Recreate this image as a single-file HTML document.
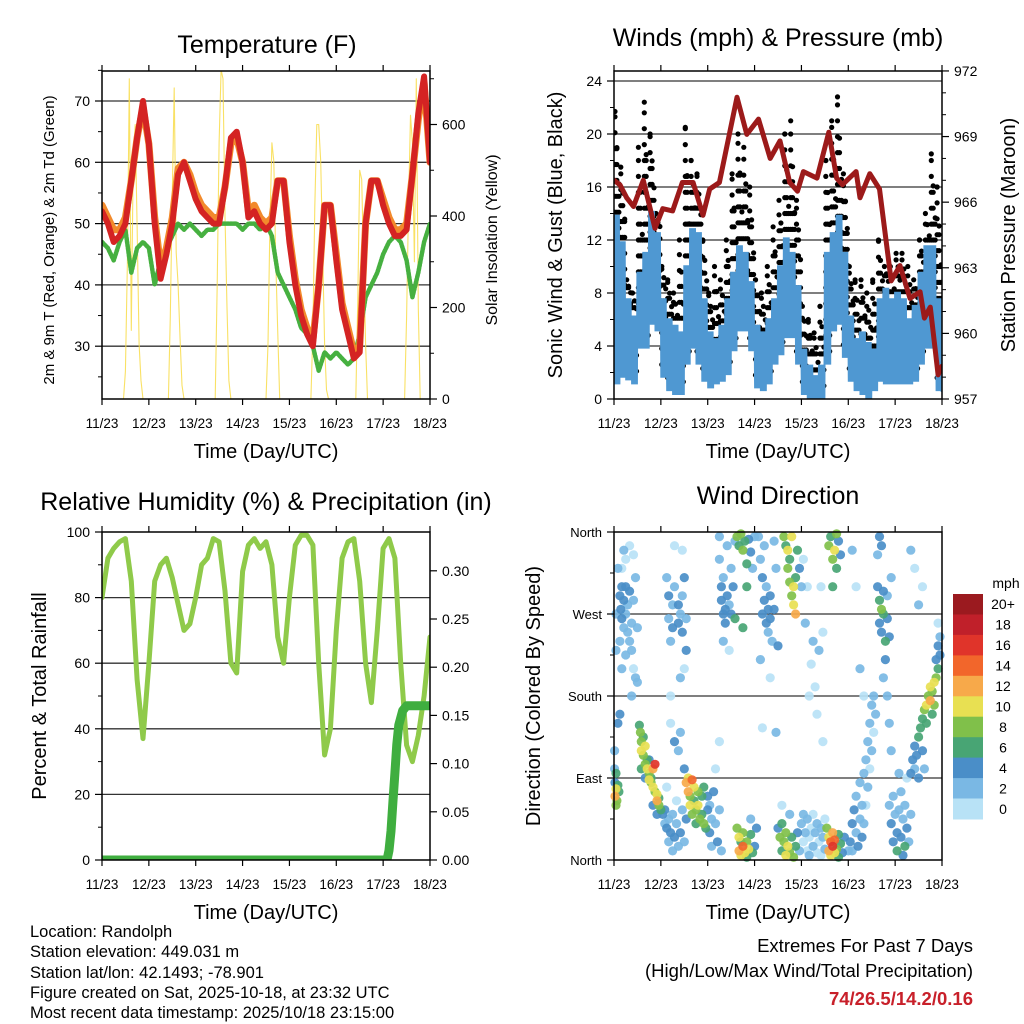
<!DOCTYPE html>
<html><head><meta charset="utf-8"><style>
html,body{margin:0;padding:0;background:#fff;}
svg{display:block;font-family:"Liberation Sans",Arial,sans-serif;}
</style></head><body>
<svg id="chart" width="1024" height="1024" viewBox="0 0 1024 1024" xmlns="http://www.w3.org/2000/svg">
<rect width="1024" height="1024" fill="#fff"/>
<g id="p1"></g>
<g id="p2"></g>
<g id="p3"></g>
<g id="p4"></g>
<g font-size="16.5" fill="#000">
<text x="30" y="937">Location: Randolph</text>
<text x="30" y="957">Station elevation: 449.031 m</text>
<text x="30" y="978">Station lat/lon: 42.1493; -78.901</text>
<text x="30" y="998">Figure created on Sat, 2025-10-18, at 23:32 UTC</text>
<text x="30" y="1018">Most recent data timestamp: 2025/10/18 23:15:00</text>
</g>
<g text-anchor="end">
<text x="973" y="952" font-size="18.5">Extremes For Past 7 Days</text>
<text x="973" y="977" font-size="18.5">(High/Low/Max Wind/Total Precipitation)</text>
<text x="973" y="1005" font-size="18.5" font-weight="bold" fill="#c8202a">74/26.5/14.2/0.16</text>
</g>
</svg>
<script>
// ---------- data ----------
const dayLabels = ["11/23","12/23","13/23","14/23","15/23","16/23","17/23","18/23"];
const tempRed = [52,50,47,48,50,57,64,70,63,50,41,45,50,58,60,57,54,52,51,50,50,56,64,65,60,51,52,50,49,50,57,57,47,40,35,32,30,40,53,53,44,36,32,28,29,50,57,57,53,50,48,48,49,58,68,74,60];
const tempOrange = [53,51,49,49,51,57,64,69,63,51,43,46,51,59,60,58,55,53,52,51,51,56,63,64,60,52,53,51,50,51,57,57,48,41,36,33,31,40,53,53,45,37,33,29,30,50,57,57,54,51,49,49,50,58,67,73,60];
const dewGreen = [47,46,44,47,49,42,46,47,46,40,44,46,48,50,49,50,49,48,49,49,50,50,50,50,49,50,50,49,50,48,42,40,38,36,33,32,30,26,29,28,29,28,27,28,32,38,40,42,45,47,48,47,44,38,42,47,50];
const solarStart = [11,34,58,84,107,130,155];
const solarVals = [
 [0,60,300,700,150,520,600,380,120,40,0],
 [0,180,450,680,320,250,130,30,0],
 [0,250,560,720,700,400,200,40,0],
 [0,120,380,560,520,300,150,0],
 [0,150,420,600,600,520,330,120,20,0],
 [0,220,500,480,300,120,0],
 [0,180,420,620,560,300,700,200,0]
];
const windHi = [13.9,11.9,7.6,6.3,9.6,11.1,14.2,12.6,7.6,6.1,5.6,5.1,10.1,12.9,12.6,7.6,5.1,4.6,5.6,7.6,9.6,11.6,11.1,8.9,5.6,5.1,6.1,7.6,10.1,12.2,11.1,8.6,3.8,2.6,1.8,2.6,11.1,12.6,13.9,11.1,6.3,4.6,5.1,4.3,3.8,7.6,8.4,7.6,8.1,7.6,6.1,7.1,9.6,11.6,11.6,7.6];
const windLo = [1.1,1.6,1.4,1.1,3.8,3.8,5.6,5.1,1.6,0.6,0.3,0.3,2.6,3.8,2.6,1.3,0.8,1.1,1.3,1.8,3.6,5.1,5.1,3.6,0.8,0.6,1.1,2.6,3.3,4.6,4.6,2.6,0.3,0,0,0,2.6,5.1,5.6,3.1,1.3,0.6,0.3,0,0.6,1.3,1.1,1.1,1.1,1.1,1.1,1.3,2.6,3.8,3.8,0.6];
const gustHi = [21.7,17.5,9,8,19,22.4,20,14,10,9,8,12,20.5,18,17,12,8,10,9,12,17,20,19,16,9,8,10,13,15,20,21,15,7,6,5,7,18,21,22.8,17,10,9,9,8,9,12,10,10,11,11,10,9,12,14,18.5,16];
const pressHour = [0,3,6.5,10,15,21,25,30,35,40.5,45.6,49,54,63,68,74,80,85,90,94,97,104,110,114,117,124,126,131,136,142,146.5,151.6,156.8,159,162,166,168];
const pressVal = [967.0,966.8,966.2,965.8,967.0,964.8,965.7,965.6,966.9,966.9,965.4,966.6,966.9,970.8,969.1,969.8,968.0,968.8,966.9,966.5,967.4,967.1,969.2,967.1,966.8,967.4,966.2,967.3,966.6,962.4,963.1,961.6,961.9,960.7,961.2,958.1,958.5];
const rhVal = [80,92,95,97,98,85,55,37,60,85,90,92,86,78,70,72,80,90,92,98,97,82,60,57,88,96,98,95,97,90,68,60,80,96,99,99,96,60,32,40,70,92,97,98,85,60,48,70,95,98,92,60,35,30,38,50,68];
const precipHour = [0,146,147,148,149,150,151,152,154,156,168];
const precipVal = [0,0,0.01,0.03,0.06,0.09,0.12,0.14,0.155,0.16,0.16];
const speedBins = ["0","2","4","6","8","10","12","14","16","18","20+"];
const speedColors = ["#b8e2f6","#7ab8e4","#4a8ec8","#48a574","#80c04a","#e8e052","#f7a94a","#f2662b","#e0342a","#c0202a","#9b1a1f"];
const dirObs = [
[0.5,70,13],[1,78,10],[1.5,65,9],[2,82,7],[1,60,8],[2.5,75,6],[0.5,85,5],[0.3,100,3],[0.3,120,2],[2,150,4],[3,160,4],[1,95,6],
[3,290,4],[3.5,275,4],[4,300,4],[4,265,5],[5,285,4],[5,255,3],[6,270,2],[6,300,5],[7,280,3],[7,250,2],[8,295,4],[8,240,3],[9,260,2],[9,230,2],[10,285,3],[10,210,1],[11,200,2],[12,195,3],[12,255,2],[4,320,1],[5,340,2],[6,330,1],[8,345,1],[10,335,1],[11,310,2],[2,320,2],[1,270,2],[1,230,2],[3,240,3],[4,210,2],[6,225,2],[9,180,3],
[13,148,6],[13.5,140,8],[14,130,8],[14,120,10],[15,135,6],[15,115,8],[16,125,10],[16,105,8],[17,110,6],[17,100,10],[18,95,8],[18,88,10],[19,85,8],[19,90,6],[20,100,12],[20,80,10],[21,105,16],[21,75,8],[22,72,10],[22,65,12],[23,60,8],[23,68,6],[24,55,6],[14,100,6],[16,90,4],[18,110,4],[20,60,4],[22,50,4],
[25,50,4],[26,40,2],[26,55,4],[27,35,4],[28,45,2],[28,20,2],[29,30,4],[30,10,2],[30,50,2],[31,25,4],[32,40,2],[33,15,2],[34,30,4],[35,55,2],[36,20,2],[37,45,4],[31,130,4],[33,120,2],[34,140,2],[36,100,4],[29,150,0],[27,80,0],[32,65,0],
[27,310,2],[28,290,4],[28,265,2],[29,240,2],[30,255,4],[30,280,2],[31,300,2],[33,260,4],[33,280,4],[34,270,2],[35,250,4],[35,290,2],[36,310,4],[37,265,2],[37,230,4],[34,200,2],[29,180,0],[36,210,0],[31,345,0],[35,340,0],
[37,85,12],[38,90,10],[38,75,12],[39,70,8],[39,60,10],[40,88,14],[40,50,8],[41,80,10],[41,65,6],[42,55,8],[42,40,6],[43,75,8],[43,60,10],[44,45,8],[45,70,6],[45,50,6],[46,80,6],[47,35,6],[48,55,4],[46,40,8],
[48,70,4],[49,60,2],[49,30,4],[50,45,2],[50,15,2],[51,75,4],[52,40,2],[53,20,4],[54,55,2],[55,10,2],[52,100,0],[54,130,0],
[54,355,2],[54,330,2],[55,300,4],[55,285,4],[56,270,4],[56,310,2],[57,275,4],[57,260,4],[58,290,4],[58,345,2],[59,280,2],[60,270,4],[60,320,2],[61,300,4],[62,350,2],[62,265,6],[56,240,2],[59,230,0],
[63,35,8],[64,25,10],[64,10,12],[65,20,6],[65,5,10],[66,30,8],[66,15,14],[67,8,10],[68,20,8],[68,3,6],[69,12,10],[70,28,6],[71,8,6],[72,15,4],[73,35,4],[70,45,2],
[63,355,8],[64,345,6],[65,358,8],[66,340,8],[67,350,6],[68,325,6],[69,352,4],[70,338,4],[71,320,2],[72,355,2],[66,255,6],[68,300,6],
[74,355,2],[75,330,2],[76,310,4],[76,270,4],[77,285,4],[78,260,4],[78,300,2],[79,275,4],[79,250,2],[80,290,4],[80,265,4],[81,240,2],[82,275,4],[83,320,2],[84,235,4],[75,220,2],[77,345,2],[82,350,2],[80,200,0],[76,145,0],[83,140,2],
[84,35,4],[85,25,8],[86,10,6],[86,40,6],[87,20,8],[88,5,10],[88,30,8],[89,15,10],[90,8,8],[91,25,6],[92,3,8],[93,15,6],[94,30,4],[95,10,2],[90,50,2],[86,60,0],
[87,355,8],[88,345,6],[89,340,10],[89,320,8],[90,330,6],[90,305,8],[91,290,8],[92,300,10],[92,280,10],[93,270,12],[93,310,6],[91,355,10],[94,340,6],[95,320,4],[96,300,2],
[96,40,2],[97,20,0],[97,50,2],[98,30,2],[99,10,0],[99,45,2],[100,25,0],[100,5,2],[101,35,0],[102,15,2],[102,50,0],[103,30,2],[104,8,0],[104,40,2],[105,20,0],[106,35,2],[106,5,0],[107,25,2],[108,45,0],[108,12,2],[98,260,2],[99,300,0],[100,180,0],[101,215,0],[102,240,2],[103,190,0],[104,160,0],[105,230,2],[107,250,0],[107,130,0],[106,300,0],[97,330,0],
[109,35,8],[110,25,10],[110,10,12],[111,20,14],[111,5,10],[112,15,16],[112,30,12],[113,8,10],[113,22,14],[114,12,8],[115,3,6],[115,28,6],[116,18,6],[117,8,4],[118,25,4],[120,10,2],
[110,345,8],[111,355,6],[112,330,8],[113,340,10],[114,358,8],[114,320,6],[115,350,4],[116,335,4],[112,300,6],
[121,20,4],[122,40,4],[122,10,2],[123,55,4],[124,30,2],[124,70,2],[125,15,4],[126,45,2],[126,85,2],[127,60,2],[127,25,4],[128,95,2],[128,40,2],[129,110,2],[129,60,0],[130,130,2],[130,80,2],[131,150,2],[131,100,0],[132,170,2],[132,120,2],[133,180,2],[133,140,0],[134,160,2],[122,340,2],[124,300,0],[126,210,2],[128,180,0],
[135,300,4],[136,285,6],[136,260,4],[137,275,8],[137,250,4],[138,270,6],[138,295,4],[139,240,6],[139,220,4],[140,265,4],[140,290,2],[141,245,4],[142,310,2],[135,335,2],[136,355,4],[137,345,4],[138,200,2],[140,180,2],[141,150,2],[142,120,2],
[141,60,2],[142,40,4],[143,70,2],[143,20,4],[144,50,2],[145,30,4],[145,10,6],[146,55,2],[147,25,4],[147,75,2],[148,45,2],[149,15,6],[149,60,2],[150,35,4],[151,20,2],[152,50,2],[150,90,0],[146,95,2],[148,5,4],
[152,95,4],[153,110,4],[154,100,2],[154,125,4],[155,115,4],[156,135,6],[156,90,4],[157,145,6],[158,120,4],[159,100,2],[152,340,2],[154,320,0],[156,280,2],[158,300,0],
[158,155,6],[159,165,8],[160,170,10],[160,150,6],[161,180,8],[162,175,12],[162,190,10],[163,185,8],[164,195,10],[164,170,8],[165,200,8],[166,210,6],[163,160,6],
[165,220,4],[166,235,4],[167,225,4],[167,245,2],[166,260,0]
];

// ---------- helpers ----------
const NS = "http://www.w3.org/2000/svg";
function mk(parent, tag, attrs){ const e=document.createElementNS(NS,tag); for(const k in attrs) e.setAttribute(k,attrs[k]); parent.appendChild(e); return e; }
function txt(parent, x, y, s, size, anchor, extra){ const t=mk(parent,"text",Object.assign({x:x,y:y,"font-size":size,"text-anchor":anchor||"start"},extra||{})); t.textContent=s; return t; }
const PW=328, PH=328;
function xs(x0,h){ return x0 + h*PW/168; }

function frameAndX(g, x0, y0, gridYs){
  gridYs.forEach(y=>{ const l=mk(g,"line",{x1:x0,x2:x0+PW,y1:y,y2:y,stroke:"#333","stroke-width":1.3});
    
     });
}
function frameTop(g,x0,y0){
  const r=mk(g,"rect",{x:x0,y:y0,width:PW,height:PH,fill:"none",stroke:"#000","stroke-width":1.5});
  
  
  for(let d=0; d<=7; d++){
    const x=xs(x0,d*24);
    mk(g,"line",{x1:x,x2:x,y1:y0+PH,y2:y0+PH+6,stroke:"#000","stroke-width":1.2});
    mk(g,"line",{x1:x,x2:x,y1:y0,y2:y0-6,stroke:"#000","stroke-width":1.2});
    const t=txt(g,x,y0+PH+29,dayLabels[d],13.5,"middle");
    
    
  }
  const xt=txt(g,x0+PW/2,y0+PH+59,"Time (Day/UTC)",20,"middle");
  
  
}
function yTicks(g, side, x, values, yf, fmt, minorVals){
  const dir = side==="left"?-1:1;
  values.forEach(v=>{ const y=yf(v);
    mk(g,"line",{x1:x,x2:x+dir*7,y1:y,y2:y,stroke:"#000","stroke-width":1.2});
    const t=txt(g, side==="left"? x-12 : x+12, y+5, fmt(v), 14, side==="left"?"end":"start");
    
    
  });
  (minorVals||[]).forEach(v=>{ const y=yf(v); mk(g,"line",{x1:x,x2:x+dir*4,y1:y,y2:y,stroke:"#000","stroke-width":1}); });
}
function rotTitle(g,x,y,s,size,name){
  const t=txt(g,x,y,s,size,"middle",{transform:`rotate(-90 ${x} ${y})`});
  
  
}
function title(g,x,y,s,name){ const t=txt(g,x,y,s,25,"middle");   }
function poly(g, pts, stroke, w, name, extra){
  const p=mk(g,"polyline",Object.assign({points:pts.map(p=>p[0].toFixed(1)+","+p[1].toFixed(1)).join(" "),fill:"none",stroke:stroke,"stroke-width":w,"stroke-linejoin":"round","stroke-linecap":"round"},extra||{}));
  
  
  return p;
}

// ---------- Panel 1: Temperature ----------
(function(){
  const g=document.getElementById("p1"); const x0=102,y0=71;
  const yT=v=>101+(70-v)*6.13, yS=v=>399-v*0.4575;
  title(g,267,53,"Temperature (F)","temperature-title");
  const clip=mk(g,"clipPath",{id:"c1"}); mk(clip,"rect",{x:x0,y:y0,width:PW,height:PH});
  const pg=mk(g,"g",{"clip-path":"url(#c1)"});
  frameAndX(pg,x0,y0,[30,40,50,60,70].map(yT));
  solarStart.forEach((s,d)=>{
    const pts=solarVals[d].map((v,i)=>[xs(x0,s+i),yS(v)]);
    poly(pg,pts,"#f8dc4a",1.1,"solar-insolation-line-day"+d,{"stroke-opacity":0.85});
  });
  poly(pg,dewGreen.map((v,i)=>[xs(x0,i*3),yT(v)]),"#46b040",4.5,"dewpoint-2m-line",{"stroke-dasharray":"2 1.5"});
  poly(pg,tempOrange.map((v,i)=>[xs(x0,i*3),yT(v)]),"#f28a2c",7,"temp-9m-line");
  poly(pg,tempRed.map((v,i)=>[xs(x0,i*3),yT(v)]),"#d42323",6,"temp-2m-line");
  frameTop(g,x0,y0);
  yTicks(g,"left",x0,[30,40,50,60,70],yT,v=>String(v),[25,35,45,55,65,75]);
  yTicks(g,"right",x0+PW,[0,200,400,600],yS,v=>String(v),[100,300,500,700]);
  rotTitle(g,54,240,"2m & 9m T (Red, Orange) & 2m Td (Green)",15,"temperature-y-axis-title");
  rotTitle(g,497,240,"Solar Insolation (Yellow)",16,"solar-y-axis-title");
})();

// ---------- Panel 2: Winds ----------
(function(){
  const g=document.getElementById("p2"); const x0=614,y0=71;
  const yW=v=>399-v*13.25, yP=p=>399-(p-957)*21.87;
  title(g,778,46,"Winds (mph) & Pressure (mb)","winds-title");
  const clip=mk(g,"clipPath",{id:"c2"}); mk(clip,"rect",{x:x0,y:y0,width:PW,height:PH});
  const pg=mk(g,"g",{"clip-path":"url(#c2)"});
  frameAndX(pg,x0,y0,[4,8,12,16,20,24].map(yW));
  const dots=mk(pg,"g",{fill:"#000"});
  
  
  gustHi.forEach((gh,i)=>{
    for(let j=0;j<3;j++){
      const top = gh - j*(gh-windHi[i])*0.35;
      for(let v=windLo[i]+1; v<=top+0.01; v+=1.2){
        mk(dots,"circle",{cx:xs(x0,i*3+0.5+j).toFixed(1),cy:yW(v).toFixed(1),r:2.6});
      }
      mk(dots,"circle",{cx:xs(x0,i*3+0.5+j).toFixed(1),cy:yW(top).toFixed(1),r:2.6});
    }
  });
  const zz=[];
  windHi.forEach((hi,i)=>{ for(let k=0;k<12;k++){ zz.push([xs(x0,i*3+k*0.25), yW(k%2===0?hi:windLo[i])]); } });
  poly(pg,zz,"#4f98d2",2,"sonic-wind-line",{"stroke-linejoin":"miter"});
  poly(pg,pressHour.map((h,i)=>[xs(x0,h),yP(pressVal[i])]),"#9c1a1a",5,"station-pressure-line");
  frameTop(g,x0,y0);
  yTicks(g,"left",x0,[0,4,8,12,16,20,24],yW,v=>String(v),[2,6,10,14,18,22]);
  yTicks(g,"right",x0+PW,[957,960,963,966,969,972],yP,v=>String(v),[958,959,961,962,964,965,967,968,970,971]);
  rotTitle(g,562,235,"Sonic Wind & Gust (Blue, Black)",20,"wind-y-axis-title");
  rotTitle(g,1015,235,"Station Pressure (Maroon)",20,"pressure-y-axis-title");
})();

// ---------- Panel 3: RH & precip ----------
(function(){
  const g=document.getElementById("p3"); const x0=102,y0=532;
  const yR=v=>860-v*3.28, yPr=p=>860-p*964;
  title(g,266,510,"Relative Humidity (%) & Precipitation (in)","humidity-title");
  const clip=mk(g,"clipPath",{id:"c3"}); mk(clip,"rect",{x:x0,y:y0,width:PW,height:PH});
  const pg=mk(g,"g",{"clip-path":"url(#c3)"});
  frameAndX(pg,x0,y0,[20,40,60,80].map(yR));
  poly(pg,rhVal.map((v,i)=>[xs(x0,i*3),yR(v)]),"#8fca4a",5,"relative-humidity-line");
  poly(pg,precipHour.map((h,i)=>[xs(x0,h),yPr(precipVal[i])]),"#3fae3f",9,"total-rainfall-line");
  frameTop(g,x0,y0);
  yTicks(g,"left",x0,[0,20,40,60,80,100],yR,v=>String(v),[10,30,50,70,90]);
  yTicks(g,"right",x0+PW,[0,0.05,0.1,0.15,0.2,0.25,0.3],yPr,v=>v.toFixed(2),[]);
  rotTitle(g,46,696,"Percent & Total Rainfall",20,"humidity-y-axis-title");
})();

// ---------- Panel 4: Wind direction ----------
(function(){
  const g=document.getElementById("p4"); const x0=614,y0=532;
  const yD=d=>860-d*PH/360;
  title(g,778,504,"Wind Direction","wind-direction-title");
  const clip=mk(g,"clipPath",{id:"c4"}); mk(clip,"rect",{x:x0-5,y:y0-5,width:PW+10,height:PH+10});
  const pg=mk(g,"g",{"clip-path":"url(#c4)"});
  frameAndX(pg,x0,y0,[90,180,270].map(yD));
  const sorted=dirObs.slice().sort((a,b)=>a[2]-b[2]);
  sorted.forEach(o=>{
    const bin=Math.min(10,Math.floor(o[2]/2));
    const c=mk(pg,"circle",{cx:xs(x0,o[0]).toFixed(1),cy:yD(o[1]).toFixed(1),r:4.6,fill:speedColors[bin],"fill-opacity":0.92});
    
    
  });
  frameTop(g,x0,y0);
  const names=["North","East","South","West","North"];
  [0,90,180,270,360].forEach((d,i)=>{ const y=yD(d);
    mk(g,"line",{x1:x0,x2:x0-7,y1:y,y2:y,stroke:"#000","stroke-width":1.2});
    const t=txt(g,x0-12,y+5,names[i],13,"end");
    
    
  });
  [45,135,225,315].forEach(d=>mk(g,"line",{x1:x0,x2:x0-4,y1:yD(d),y2:yD(d),stroke:"#000"}));
  rotTitle(g,540,696,"Direction (Colored By Speed)",20,"direction-y-axis-title");
  const cb=mk(g,"g",{});
  
  
  const cbTop=594, cbH=225/11;
  speedBins.forEach((lab,i)=>{
    const k=10-i; const y=cbTop+i*cbH;
    const r=mk(cb,"rect",{x:953,y:y.toFixed(1),width:30,height:(cbH+0.5).toFixed(1),fill:speedColors[k]});
    
    
    const t=txt(cb,1003,y+cbH/2+5,speedBins[k],14,"middle");
    
    
  });
  const u=txt(cb,1006,588,"mph",14,"middle");
  
  
})();
</script>
</body></html>
